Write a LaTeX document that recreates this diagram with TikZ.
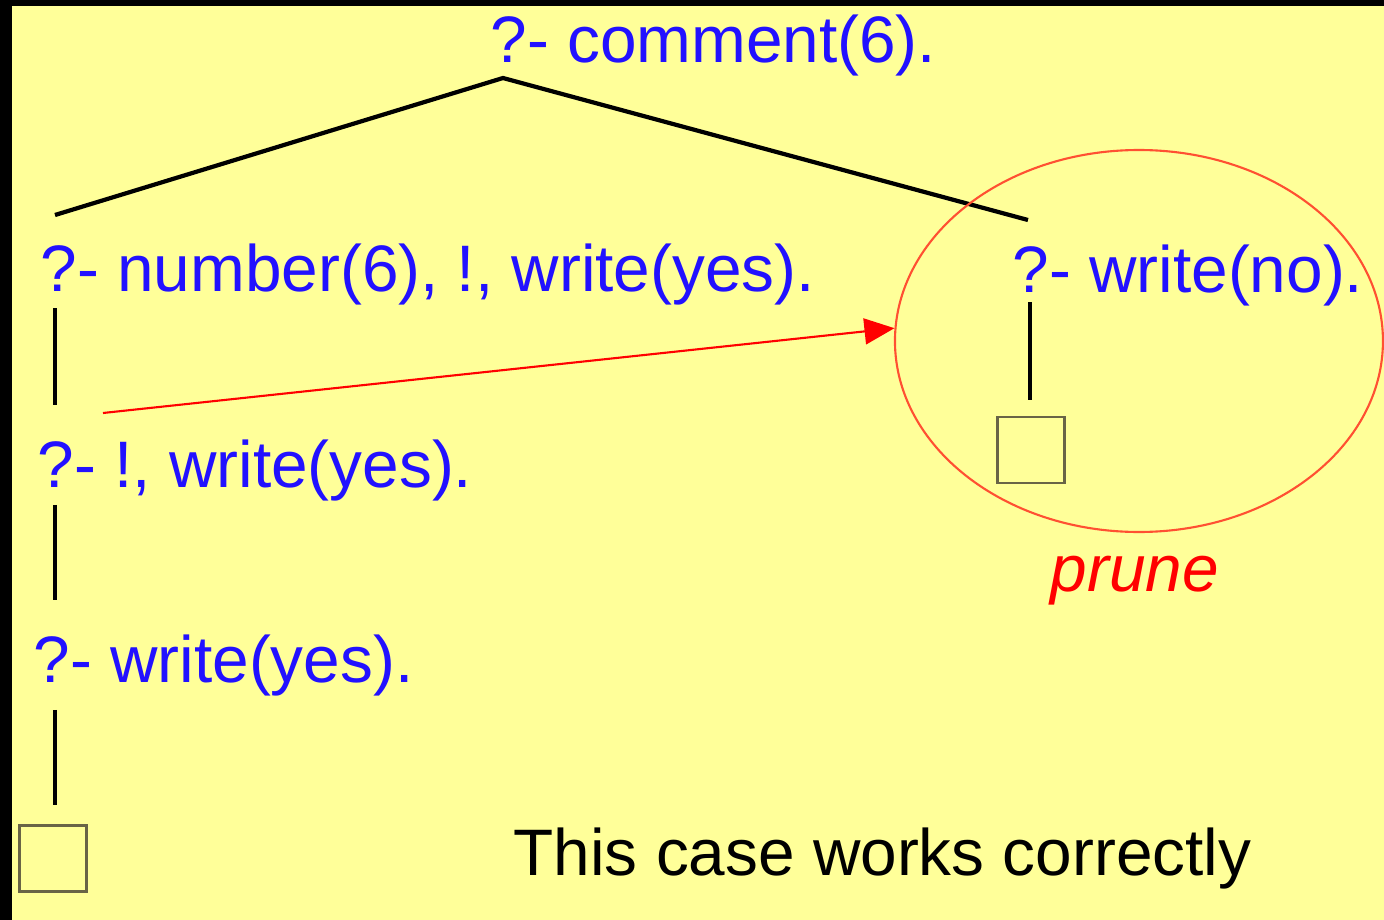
\documentclass[tikz,border=0pt]{standalone}
\usepackage{fontspec}
\setmainfont{Liberation Sans}
\usepackage{xcolor}
\usetikzlibrary{arrows.meta,positioning,shapes.geometric}

\definecolor{slideyellow}{RGB}{255,255,153}
\definecolor{goalblue}{RGB}{34,17,255}
\definecolor{boxgray}{RGB}{105,100,70}
\definecolor{cutred}{RGB}{255,80,50}

\tikzset{
	goal/.style={text=goalblue, anchor=base west, inner sep=0pt,
		font=\fontsize{18.7}{22}\selectfont},
	branch/.style={black, line width=1.2pt},
	emptybox/.style={draw=boxgray, line width=0.8pt, rectangle,
		minimum width=0.67cm, minimum height=0.66cm, inner sep=0pt}
}

\begin{document}
\begin{tikzpicture}
		
		\fill[black]
		(0,0) rectangle (13.84,-9.20);
		
		\fill[slideyellow]
		(0.12,-0.06) rectangle (13.84,-9.20);
		
		% goals
		\node[goal] (root) at (4.90,-0.62) {?- comment(6).};
		\node[goal] (num) at (0.40,-2.91) {?- number(6), !, write(yes).};
		\node[goal] (no) at (10.12,-2.92) {?- write(no).};
		\node[goal] (cut) at (0.37,-4.88) {?- !, write(yes).};
		\node[goal] (yes) at (0.33,-6.83) {?- write(yes).};
		
		% empty goals
		\node[emptybox] (done) at (0.53,-8.585) {};
		\node[emptybox] (nodone) at (10.31,-4.50) {};
		
		% branch ends
		\coordinate (apex) at (5.03,-0.78);
		\coordinate (numtop) at (0.55,-2.15);
		\coordinate (notop) at (10.28,-2.20);
		\coordinate (numbot) at (0.55,-3.08);
		\coordinate (cuttop) at (0.55,-4.05);
		\coordinate (cutbot) at (0.55,-5.05);
		\coordinate (yestop) at (0.55,-6.00);
		\coordinate (yesbot) at (0.55,-7.10);
		\coordinate (donetop) at (0.55,-8.05);
		\coordinate (nobot) at (10.30,-3.02);
		\coordinate (nodonetop) at (10.30,-4.00);
		
		\draw[branch] (numtop) -- (apex) -- (notop);
		\draw[branch] (numbot) -- (cuttop);
		\draw[branch] (cutbot) -- (yestop);
		\draw[branch] (yesbot) -- (donetop);
		\draw[branch] (nobot) -- (nodonetop);
		
		% pruned part
		\node[ellipse, draw=cutred, line width=0.6pt,
		minimum width=4.88cm, minimum height=3.82cm, inner sep=0pt]
		(pruned) at (11.39,-3.41) {};
		
		\coordinate (cutfrom) at (1.03,-4.13);
		\draw[red, line width=0.6pt, -{Triangle[length=3mm,width=2.6mm]}]
		(cutfrom) -- (pruned.177);
		
		\node[text=red, anchor=base west, inner sep=0pt,
		font=\fontsize{18.7}{22}\selectfont\itshape]
		(prune) at (10.50,-5.92) {prune};
		
		\node[anchor=base west, inner sep=0pt,
		font=\fontsize{18.7}{22}\selectfont]
		(note) at (5.13,-8.76) {This case works correctly};
		
	\end{tikzpicture}
\end{document}
